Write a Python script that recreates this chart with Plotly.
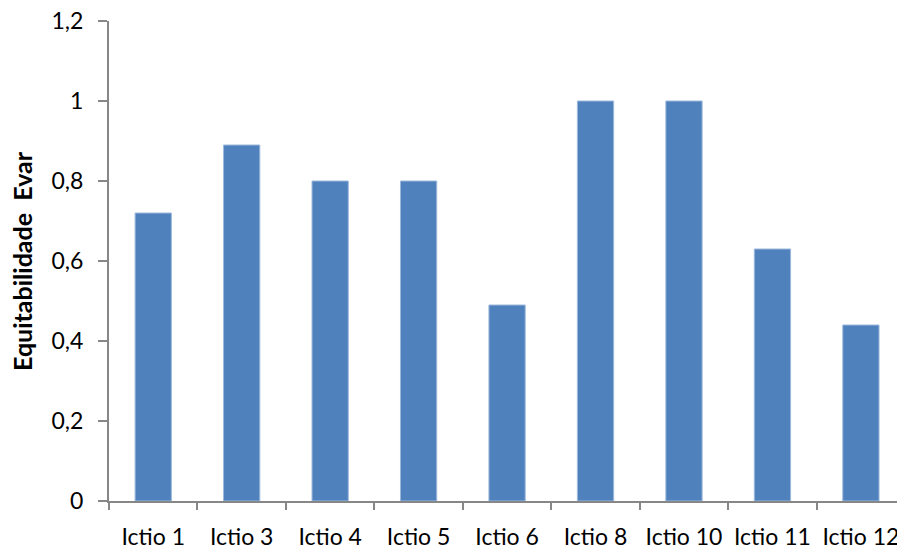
import plotly.graph_objects as go

# Evenness (Evar) per sampling station
stations = ["Ictio 1", "Ictio 3", "Ictio 4", "Ictio 5", "Ictio 6",
            "Ictio 8", "Ictio 10", "Ictio 11", "Ictio 12"]
evar = [0.72, 0.89, 0.80, 0.80, 0.49, 1.00, 1.00, 0.63, 0.44]

axis_color = "#878787"
font_family = "Lato, 'Open Sans', sans-serif"

fig = go.Figure(
    go.Bar(
        x=stations,
        y=evar,
        width=0.41,
        marker=dict(color="#4F81BD", line=dict(color="#9DB9DC", width=1)),
    )
)

fig.update_layout(
    width=897,
    height=550,
    margin=dict(l=109, r=0, t=21, b=49, autoexpand=False),
    plot_bgcolor="white",
    paper_bgcolor="white",
    separators=",.",
    showlegend=False,
    font=dict(family=font_family, color="black", size=23),
)

fig.update_xaxes(
    type="category",
    range=[-0.5, 8.408],
    showline=True,
    linecolor=axis_color,
    linewidth=2,
    ticks="outside",
    tickson="boundaries",
    ticklen=7,
    tickwidth=1.5,
    tickcolor=axis_color,
    showgrid=False,
    zeroline=False,
    automargin=False,
    ticklabelstandoff=14,
    tickfont=dict(size=23),
)

fig.update_yaxes(
    range=[0, 1.2],
    dtick=0.2,
    tick0=0,
    showline=True,
    linecolor=axis_color,
    linewidth=2,
    ticks="outside",
    ticklen=9,
    tickwidth=1.5,
    tickcolor=axis_color,
    showgrid=False,
    zeroline=False,
    automargin=False,
    ticklabelstandoff=10,
    tickfont=dict(size=23),
)

fig.add_annotation(
    text="<b>Equitabilidade  Evar</b>",
    textangle=-90,
    xref="paper", yref="paper",
    x=(22 - 109) / 788, y=0.5,
    xanchor="center", yanchor="middle",
    showarrow=False,
    font=dict(family=font_family, size=25, color="black"),
)

fig.write_html("out.html")
